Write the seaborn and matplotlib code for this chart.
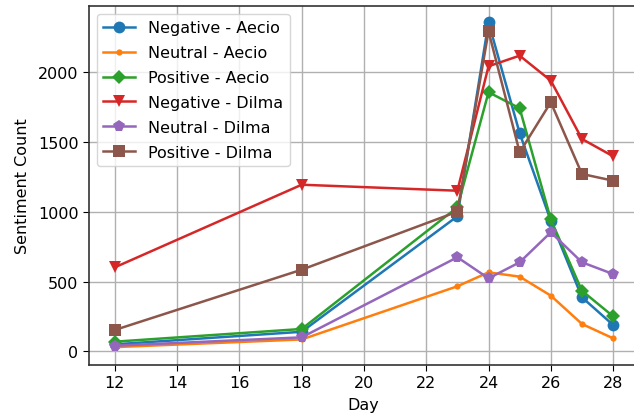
import matplotlib
matplotlib.use("Agg")
import pandas as pd
import matplotlib.pyplot as plt
import seaborn as sns

days = [12, 18, 23, 24, 25, 26, 27, 28]

neg_aecio = [50, 140, 968, 2358, 1563, 936, 387, 189]
neu_aecio = [30, 85, 466, 566, 535, 399, 196, 93]
pos_aecio = [69, 160, 1032, 1857, 1742, 945, 434, 251]
neg_dilma = [602, 1194, 1151, 2043, 2119, 1940, 1522, 1398]
neu_dilma = [40, 100, 674, 523, 638, 853, 638, 554]
pos_dilma = [153, 585, 1001, 2294, 1426, 1785, 1271, 1223]

series = [
    ('Negative - Aecio', neg_aecio, 'o', 8.5),
    ('Neutral - Aecio', neu_aecio, '.', 9),
    ('Positive - Aecio', pos_aecio, 'D', 7),
    ('Negative - Dilma', neg_dilma, 'v', 8.5),
    ('Neutral - Dilma', neu_dilma, 'p', 8.5),
    ('Positive - Dilma', pos_dilma, 's', 8),
]
colors = sns.color_palette('tab10', 6)

plt.rcParams['font.family'] = ['DejaVu Sans']
plt.rcParams['font.size'] = 11.5

fig = plt.figure(figsize=(6.34, 4.14), dpi=100)
# the original is cropped on the right and bottom, so the axes run past the edge
ax = fig.add_axes([89 / 634, (414 - 365.7) / 414, (638 - 89) / 634, (365.7 - 7) / 414])

for (label, vals, marker, ms), c in zip(series, colors):
    df = pd.DataFrame({'Day': days, 'count': vals})
    sns.lineplot(data=df, x='Day', y='count', ax=ax, color=c, marker=marker,
                 markersize=ms, markeredgewidth=0, linewidth=1.8, label=label)

ax.set_xlim(11.17, 28.8)
ax.set_ylim(-96, 2475)
ax.set_xticks([12, 14, 16, 18, 20, 22, 24, 26, 28])
ax.set_yticks([0, 500, 1000, 1500, 2000])
ax.set_xlabel('Day', fontsize=11.5, labelpad=5)
ax.set_ylabel('Sentiment Count', fontsize=11.5, labelpad=6)
ax.grid(True, color='#b0b0b0', linewidth=1.0)
ax.tick_params(labelsize=11.5, length=4)
for s in ax.spines.values():
    s.set_color('#333333')
    s.set_linewidth(1.2)
ax.legend(loc='upper left', fontsize=11.5, framealpha=0.8, labelspacing=0.62)

fig.savefig('out.png', dpi=100)
